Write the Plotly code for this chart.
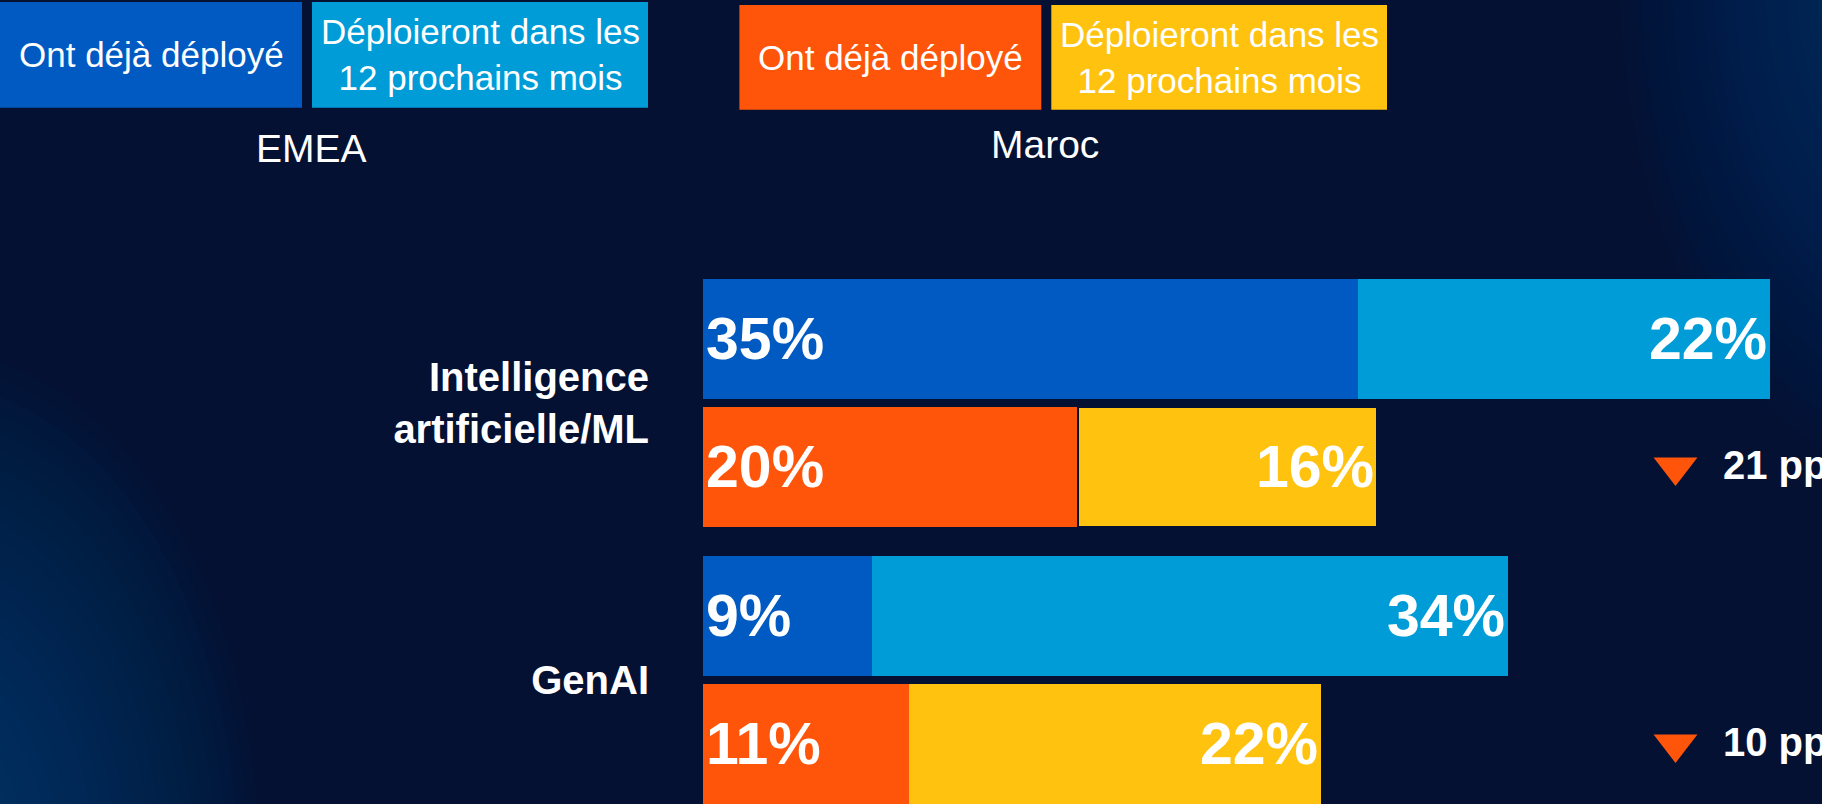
import plotly.graph_objects as go

# ---------------- data ----------------
categories = ["Intelligence<br>artificielle/ML", "GenAI"]
emea_deployed = [35, 9]
emea_planned = [22, 34]
maroc_deployed = [20, 11]
maroc_planned = [16, 22]
delta_labels = ["21 pp", "10 pp"]
legend_deployed = "Ont déjà déployé"
legend_planned = "Déploieront dans les<br>12 prochains mois"
region_labels = ["EMEA", "Maroc"]

# ---------------- styles ----------------
W, H = 1822, 804
L = 703                      # left margin (pixel of x = 0)
PW = W - L                   # plot width
PX_PER_PCT = 18.725
BG = "#041133"
C_EMEA_DEP = "#005AC2"
C_EMEA_PLN = "#009CD8"
C_MAR_DEP = "#FF550A"
C_MAR_PLN = "#FFC20F"
FONT = "Liberation Sans"

ROW_STEP_PX = 128.0
GROUP_STEP = 276.9 / ROW_STEP_PX
BAR_W = 119.7 / ROW_STEP_PX
ROW0_PX = 339.0
y_top = -ROW0_PX / ROW_STEP_PX
y_bot = (H - ROW0_PX) / ROW_STEP_PX

emea_rows = [g * GROUP_STEP for g in range(len(categories))]
maroc_rows = [g * GROUP_STEP + 1 for g in range(len(categories))]
tick_rows = [g * GROUP_STEP + 0.5 for g in range(len(categories))]


def pxx(p):
    return (p - L) / PW


def pxy(p):
    return 1 - p / H


fig = go.Figure()

label_font = dict(family=FONT, size=59, color="white", weight="bold")


def add_bar(vals, rows, color, anchor, line_w=None):
    fig.add_trace(go.Bar(
        x=vals, y=rows, orientation="h", width=BAR_W,
        marker=dict(color=color,
                    line=dict(width=line_w if line_w else 0, color=BG)),
        texttemplate="%{x}%", textposition="inside",
        insidetextanchor=anchor, insidetextfont=label_font,
        textangle=0, hoverinfo="skip", showlegend=False,
    ))


add_bar(emea_deployed, emea_rows, C_EMEA_DEP, "start")
add_bar(emea_planned, emea_rows, C_EMEA_PLN, "end")
add_bar(maroc_deployed, maroc_rows, C_MAR_DEP, "start")
add_bar(maroc_planned, maroc_rows, C_MAR_PLN, "end", line_w=[2, 0])

# delta markers
TRI_X = (1675.5 - L) / PX_PER_PCT
TXT_X = (1720.7 - L) / PX_PER_PCT
fig.add_trace(go.Scatter(
    x=[TRI_X] * len(maroc_rows), y=maroc_rows, mode="markers",
    marker=dict(symbol="triangle-down", size=38, color=C_MAR_DEP, line=dict(width=0)),
    hoverinfo="skip", showlegend=False, cliponaxis=False,
))

annotations = []
for r, t in zip(maroc_rows, delta_labels):
    annotations.append(dict(
        x=TXT_X, y=r, xref="x", yref="y", text=t, showarrow=False,
        xanchor="left", yanchor="middle", yshift=2,
        font=dict(family=FONT, size=40, color="white", weight="bold"),
    ))

shapes = []
# background glows
def glow(cx, cy, rx, ry, color, alpha, n):
    for k in range(n, 0, -1):
        f = k / n
        shapes.append(dict(
            type="circle", xref="paper", yref="paper", layer="below",
            x0=pxx(cx - rx * f), x1=pxx(cx + rx * f),
            y0=pxy(cy + ry * f), y1=pxy(cy - ry * f),
            fillcolor=color, opacity=alpha, line=dict(width=0),
        ))

glow(1930, -20, 310, 500, "rgb(8,80,140)", 0.028, 30)
glow(-70, 870, 330, 520, "rgb(8,80,140)", 0.036, 30)

# legend boxes
boxes = [
    (0, 302, 2, 107.7, C_EMEA_DEP, legend_deployed),
    (312, 648, 2, 107.7, C_EMEA_PLN, legend_planned),
    (739.4, 1041.3, 5, 109.7, C_MAR_DEP, legend_deployed),
    (1051.3, 1387, 5, 109.7, C_MAR_PLN, legend_planned),
]
for x0, x1, y0, y1, c, t in boxes:
    shapes.append(dict(
        type="rect", xref="paper", yref="paper", layer="above",
        x0=pxx(x0), x1=pxx(x1), y0=pxy(y1), y1=pxy(y0),
        fillcolor=c, line=dict(width=0),
    ))
    annotations.append(dict(
        x=pxx((x0 + x1) / 2), y=pxy((y0 + y1) / 2), xref="paper", yref="paper",
        text=t, showarrow=False, xanchor="center", yanchor="middle", align="center",
        font=dict(family=FONT, size=35, color="white"),
    ))

for (cx, cy), t in zip([(311, 148.7), (1044.6, 144.7)], region_labels):
    annotations.append(dict(
        x=pxx(cx), y=pxy(cy), xref="paper", yref="paper", text=t,
        showarrow=False, xanchor="center", yanchor="middle",
        font=dict(family=FONT, size=39, color="white"),
    ))

fig.update_layout(
    width=W, height=H,
    margin=dict(l=L, r=0, t=0, b=0, pad=0),
    paper_bgcolor=BG, plot_bgcolor="rgba(0,0,0,0)",
    barmode="stack", bargap=0,
    showlegend=False,
    xaxis=dict(range=[0, PW / PX_PER_PCT], visible=False, fixedrange=True),
    yaxis=dict(
        range=[y_bot, y_top], tickvals=tick_rows, ticktext=categories,
        showgrid=False, zeroline=False, showline=False, ticks="",
        ticklabelstandoff=53,
        tickfont=dict(family=FONT, size=40, color="white", weight="bold"),
        fixedrange=True,
    ),
    shapes=shapes, annotations=annotations,
)

fig.write_html(
    "out.html",
    config={"displayModeBar": False},
    post_script="document.body.style.margin='0';document.body.style.padding='0';"
                "document.body.style.overflow='hidden';"
                "document.body.style.background='" + BG + "';",
)
